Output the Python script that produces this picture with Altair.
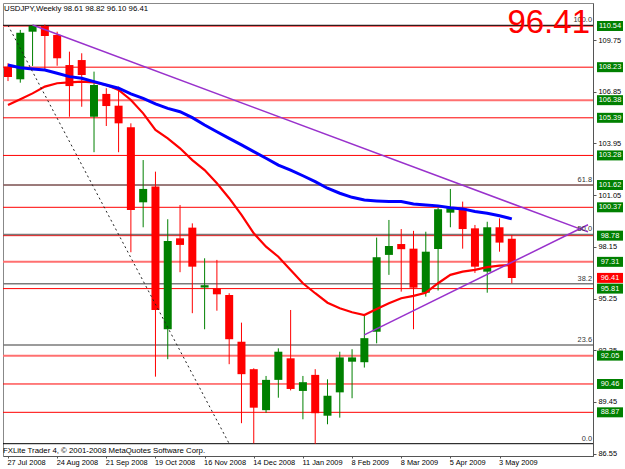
import altair as alt
import pandas as pd

# ---------------- data ----------------
week_idx = list(range(42))
opens = [108.26, 107.55, 110.22, 110.54, 110.04, 108.35, 108.63, 105.45, 106.73, 106.07,
         104.86, 100.65, 101.53, 93.53, 98.63, 99.23, 95.87, 95.83, 95.45, 92.83,
         91.29, 88.99, 90.69, 91.90, 90.07, 90.97, 88.68, 89.99, 91.71, 91.68,
         93.39, 97.70, 98.31, 98.05, 95.58, 98.03, 100.07, 100.32, 99.19, 96.76,
         99.25, 98.61]
highs = [108.45, 110.32, 110.60, 110.62, 110.22, 109.10, 109.01, 107.98, 107.05, 107.14,
         105.08, 103.02, 102.37, 99.70, 100.50, 99.47, 97.51, 97.42, 95.55, 93.90,
         91.34, 90.91, 92.46, 94.61, 90.91, 91.29, 90.72, 92.27, 92.41, 94.33,
         98.67, 99.66, 99.15, 99.05, 99.00, 100.35, 101.40, 100.69, 99.38, 99.56,
         99.75, 98.82]
lows = [107.45, 107.36, 108.30, 108.07, 108.31, 105.45, 106.01, 103.46, 104.93, 103.46,
        97.85, 99.25, 90.87, 91.85, 96.73, 94.43, 93.53, 94.57, 91.57, 88.26,
        87.13, 88.85, 89.69, 90.10, 88.48, 87.10, 88.20, 88.57, 89.66, 91.38,
        92.74, 96.58, 95.64, 93.53, 95.36, 95.70, 99.25, 98.05, 96.69, 95.58,
        97.88, 96.10]
closes = [107.68, 110.16, 110.54, 109.98, 108.73, 107.17, 107.79, 107.23, 106.05, 105.08,
          100.22, 101.40, 94.61, 98.48, 98.26, 97.04, 96.00, 95.49, 92.97, 91.01,
          89.13, 90.69, 92.27, 90.18, 90.56, 88.82, 89.80, 91.95, 91.95, 93.03,
          97.57, 98.20, 98.02, 95.86, 97.88, 100.26, 100.32, 99.15, 97.04, 99.25,
          98.39, 96.41]
ma_fast = [106.11, 106.43, 106.76, 107.14, 107.33, 107.38, 107.42, 107.38, 107.23, 106.95,
           106.39, 105.64, 104.71, 104.24, 103.68, 103.02, 102.46, 101.72, 100.88, 99.94,
           98.91, 98.16, 97.60, 96.86, 96.11, 95.55, 95.02, 94.71, 94.48, 94.33,
           94.67, 94.99, 95.27, 95.40, 95.58, 96.11, 96.58, 96.76, 96.86, 97.01,
           97.10, 97.13]
ma_slow = [108.35, 108.20, 108.13, 108.07, 107.89, 107.70, 107.61, 107.42, 107.23, 107.05,
           106.73, 106.48, 106.17, 105.92, 105.73, 105.40, 104.99, 104.61, 104.24, 103.87,
           103.49, 103.12, 102.74, 102.46, 102.14, 101.81, 101.44, 101.16, 100.93, 100.78,
           100.73, 100.69, 100.69, 100.56, 100.50, 100.45, 100.35, 100.28, 100.13, 100.04,
           99.90, 99.72]

x_tick_pos = [0, 4, 8, 12, 16, 20, 24, 28, 32, 36, 40]
x_tick_labels = ["27 Jul 2008", "24 Aug 2008", "21 Sep 2008", "19 Oct 2008", "16 Nov 2008",
                 "14 Dec 2008", "11 Jan 2009", "8 Feb 2009", "8 Mar 2009", "5 Apr 2009",
                 "3 May 2009"]
y_ticks = [111.20, 109.75, 108.30, 106.85, 105.40, 103.95, 102.50, 101.05, 99.60, 98.15,
           96.70, 95.25, 93.80, 92.35, 90.90, 89.45, 88.00, 86.55]

level_prices = [110.54, 108.23, 106.38, 105.39, 103.28, 101.62, 100.37, 98.78, 97.31,
                95.81, 92.05, 90.46, 88.87]
level_soft = [True, False, True, False, False, False, False, False, True,
              False, True, False, False]

fib_prices = [87.11, 92.65, 96.08, 98.85, 101.62, 110.58]
fib_labels = ["0.0", "23.6", "38.2", "50.0", "61.8", "100.0"]
fib_dark = [True, False, False, False, False, True]

trend_id = ["down", "down", "up", "up"]
trend_x = [2.0, 47.2, 29.0, 47.2]
trend_y = [110.60, 98.99, 93.21, 99.39]

fib_diag_x = [0.0, 18.0]
fib_diag_y = [110.58, 87.11]

last_price = 96.41
title_text = "USDJPY,Weekly  98.61 98.82 96.10 96.41"
footer_text = "FXLite Trader 4, \u00a9 2001-2008 MetaQuotes Software Corp."

FONT = "Liberation Sans, Arial"
RED = "#FF0000"
GREEN = "#008000"
SMALL = 7.4

# ---------------- frames ----------------
candles = pd.DataFrame({"i": week_idx, "o": opens, "h": highs, "l": lows, "c": closes})
candles["dir"] = ["up" if cc >= oo else "down" for oo, cc in zip(opens, closes)]
mas = pd.DataFrame({"i": week_idx, "fast": ma_fast, "slow": ma_slow})
levels = pd.DataFrame({"p": level_prices, "soft": level_soft})
fibs = pd.DataFrame({"p": fib_prices, "lab": fib_labels, "dark": fib_dark})
trends = pd.DataFrame({"id": trend_id, "x": trend_x, "y": trend_y})
diag = pd.DataFrame({"x": fib_diag_x, "y": fib_diag_y})
boxes = pd.DataFrame({"p": level_prices + [last_price],
                      "lab": [f"{v:.2f}" for v in level_prices] + [f"{last_price:.2f}"],
                      "kind": ["level"] * len(level_prices) + ["last"]})

label_expr = "[" + ",".join(f"'{s}'" for s in x_tick_labels) + "][round(datum.value / 4)]"

xs = alt.Scale(domain=[0, 47.2], nice=False, zero=False)
ys = alt.Scale(domain=[86.42, 111.83], nice=False, zero=False)

X = alt.X("i:Q", scale=xs,
          axis=alt.Axis(values=x_tick_pos, labelExpr=label_expr, title=None, grid=False,
                        labelAlign="left", labelFont=FONT, labelFontSize=SMALL,
                        labelColor="black", tickColor="#555", tickSize=2,
                        domainColor="#555", labelPadding=0, labelOffset=-1,
                        labelFlush=False, labelOverlap=False))
Yaxis = alt.Axis(values=y_ticks, format=".2f", orient="right", title=None, grid=False,
                 labelFont=FONT, labelFontSize=SMALL, labelColor="black", tickColor="#555",
                 tickSize=3, domainColor="#555", labelPadding=2, labelFlush=False,
                 labelOverlap=False)

base_c = alt.Chart(candles)
color_enc = alt.Color("dir:N", scale=alt.Scale(domain=["up", "down"], range=[GREEN, RED]),
                      legend=None)

lv_hard = alt.Chart(levels).transform_filter("!datum.soft").mark_rule(
    color=RED, strokeWidth=1).encode(y=alt.Y("p:Q", scale=ys, axis=Yaxis))
lv_soft = alt.Chart(levels).transform_filter("datum.soft").mark_rule(
    color="#FF7070", strokeWidth=2).encode(y=alt.Y("p:Q", scale=ys))
fib_grey = alt.Chart(fibs).transform_filter("!datum.dark").mark_rule(
    color="#7a7a7a", strokeWidth=1.5).encode(y=alt.Y("p:Q", scale=ys))
fib_black = alt.Chart(fibs).transform_filter("datum.dark").mark_rule(
    color="#000000", strokeWidth=1).encode(y=alt.Y("p:Q", scale=ys))

wicks = base_c.mark_rule(strokeWidth=1, clip=True).encode(
    x=X, y=alt.Y("l:Q", scale=ys), y2="h:Q", color=color_enc)
bodies = base_c.mark_bar(size=8, clip=True).encode(
    x=alt.X("i:Q", scale=xs), y=alt.Y("o:Q", scale=ys), y2="c:Q", color=color_enc)

fast_line = alt.Chart(mas).mark_line(color=RED, strokeWidth=2.2, clip=True).encode(
    x=alt.X("i:Q", scale=xs), y=alt.Y("fast:Q", scale=ys))
slow_line = alt.Chart(mas).mark_line(color="#0000FF", strokeWidth=3, clip=True).encode(
    x=alt.X("i:Q", scale=xs), y=alt.Y("slow:Q", scale=ys))

trend_lines = alt.Chart(trends).mark_line(color="#9932CC", strokeWidth=1.5, clip=True).encode(
    x=alt.X("x:Q", scale=xs), y=alt.Y("y:Q", scale=ys), detail="id:N")
diag_line = alt.Chart(diag).mark_line(color="#222", strokeWidth=1, strokeDash=[2, 3],
                                      clip=True).encode(
    x=alt.X("x:Q", scale=xs), y=alt.Y("y:Q", scale=ys))

fib_text = alt.Chart(fibs).mark_text(align="right", baseline="bottom", dy=-1, font=FONT,
                                     fontSize=SMALL, color="#333").encode(
    x=alt.value(589), y=alt.Y("p:Q", scale=ys), text="lab:N")

box_rect = alt.Chart(boxes).transform_calculate(
    top="datum.p + 0.28", bot="datum.p - 0.28").mark_rect(clip=False).encode(
    x=alt.value(594), x2=alt.value(620), y=alt.Y("top:Q", scale=ys), y2="bot:Q",
    color=alt.Color("kind:N", scale=alt.Scale(domain=["level", "last"],
                                              range=[RED, "#000000"]), legend=None))
box_text = alt.Chart(boxes).mark_text(align="center", baseline="middle", font=FONT,
                                      fontSize=SMALL, color="white").encode(
    x=alt.value(607), y=alt.Y("p:Q", scale=ys), text="lab:N")

big_price = alt.Chart(pd.DataFrame({"t": [f"{last_price:.2f}"]})).mark_text(
    align="right", baseline="alphabetic", font=FONT, fontSize=33, color=RED).encode(
    x=alt.value(587), y=alt.value(30), text="t:N")
title_mark = alt.Chart(pd.DataFrame({"t": [title_text]})).mark_text(
    align="left", baseline="alphabetic", font=FONT, fontSize=7.8, color="black").encode(
    x=alt.value(1), y=alt.value(8), text="t:N")
footer_mark = alt.Chart(pd.DataFrame({"t": [footer_text]})).mark_text(
    align="left", baseline="alphabetic", font=FONT, fontSize=7.8, color="black").encode(
    x=alt.value(0), y=alt.value(450), text="t:N")

chart = alt.layer(
    lv_hard, lv_soft, fib_grey, fib_black, wicks, bodies, fast_line, slow_line,
    trend_lines, diag_line, fib_text, box_rect, box_text, big_price, title_mark, footer_mark
).properties(
    width=590, height=453,
    autosize=alt.AutoSizeParams(type="none"),
    padding={"left": 3, "top": 3, "right": 32, "bottom": 13},
    background="white",
).configure_view(stroke="#888", strokeWidth=1)

chart.save("out.html", embed_options={"renderer": "svg", "actions": False})
